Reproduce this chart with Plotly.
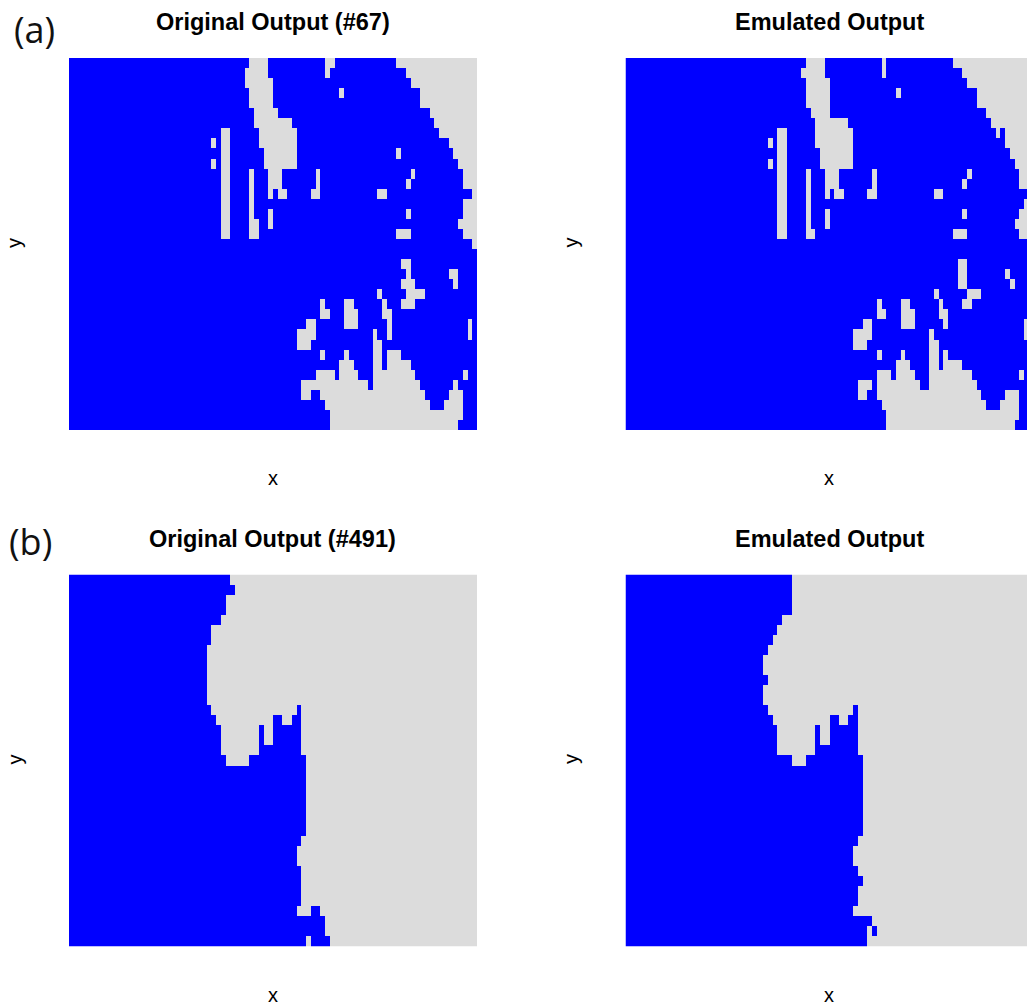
import plotly.graph_objects as go

N_COLS = 86
N_ROWS = 37
COLOR_BLUE = "#0000FF"
COLOR_GRAY = "#DCDCDC"

# Each row lists the runs of gray cells (first column, last column); all the rest is blue.
a_original = [
    [(38,41),(54,55),(69,85)], [(37,41),(54,54),(71,85)], [(37,42),(72,85)],
    [(38,42),(57,57),(74,85)], [(38,42),(74,85)], [(39,43),(76,85)], [(39,46),(77,85)],
    [(32,33),(40,47),(78,85)], [(30,30),(32,33),(40,47),(80,85)],
    [(32,33),(41,47),(69,69),(81,85)], [(30,30),(32,33),(41,47),(82,85)],
    [(32,33),(38,38),(42,44),(52,52),(72,72),(83,85)],
    [(32,33),(38,38),(42,44),(52,52),(71,71),(83,85)],
    [(32,33),(38,38),(42,42),(44,45),(51,52),(65,66),(85,85)],
    [(32,33),(38,38),(83,85)], [(32,33),(38,38),(42,42),(71,71),(83,85)],
    [(32,33),(38,39),(42,42),(82,85)], [(32,33),(38,39),(69,71),(83,85)],
    [(85,85)], [], [(70,71)], [(71,71),(80,81)], [(70,72),(81,81)], [(65,65),(71,74)],
    [(53,53),(58,59),(66,66),(70,72)], [(53,54),(58,60),(66,67)],
    [(50,51),(58,60),(67,67),(84,84)], [(48,51),(64,64),(67,67),(84,84)],
    [(48,50),(64,65)], [(53,53),(58,58),(64,65),(67,69)], [(57,59),(64,65),(67,71)],
    [(52,55),(57,60),(64,72),(83,83)], [(49,62),(64,73),(81,81)],
    [(49,50),(53,74),(80,82)], [(54,75),(79,82)], [(55,82)], [(55,81)],
]
a_emulated = [
    [(38,41),(54,54),(69,85)], [(37,41),(54,54),(71,85)], [(38,42),(72,85)],
    [(38,42),(57,57),(74,85)], [(38,42),(74,85)], [(39,42),(76,85)], [(40,46),(77,85)],
    [(32,33),(40,47),(78,78),(80,85)], [(30,30),(32,33),(40,47),(80,85)],
    [(32,33),(41,47),(81,85)], [(30,30),(32,33),(41,47),(82,85)],
    [(32,33),(38,38),(42,44),(52,52),(72,72),(83,85)],
    [(32,33),(38,38),(42,44),(52,52),(71,71),(83,85)],
    [(32,33),(38,38),(42,42),(44,45),(51,52),(65,66)],
    [(32,33),(38,38),(84,85)], [(32,33),(38,38),(42,42),(71,71),(83,85)],
    [(32,33),(38,38),(42,42),(82,85)], [(32,33),(38,39),(69,71),(83,85)],
    [], [], [(70,71)], [(70,71),(80,80)], [(70,71),(81,81)], [(65,65),(72,74)],
    [(53,53),(58,59),(66,66),(71,72)], [(53,54),(58,60),(66,67)],
    [(50,51),(58,60),(67,67),(84,85)], [(48,51),(64,64),(84,85)],
    [(48,50),(64,65)], [(53,53),(58,58),(64,65),(67,67)], [(57,59),(64,65),(67,70)],
    [(53,55),(57,60),(64,72),(83,83)], [(49,51),(53,61),(64,73)],
    [(49,50),(53,74),(80,82)], [(54,75),(79,82)], [(55,82)], [(55,81)],
]
b_original = [
    [(34,85)], [(35,85)], [(33,85)], [(33,85)], [(32,85)], [(30,85)], [(30,85)],
    [(29,85)], [(29,85)], [(29,85)], [(29,85)], [(29,85)], [(29,85)],
    [(30,47),(49,85)], [(31,42),(45,46),(49,85)], [(32,39),(41,42),(49,85)],
    [(32,39),(41,42),(49,85)], [(32,39),(49,85)], [(33,37),(50,85)],
    [(50,85)], [(50,85)], [(50,85)], [(50,85)], [(50,85)], [(50,85)], [(50,85)],
    [(49,85)], [(48,85)], [(48,85)], [(49,85)], [(49,85)], [(49,85)], [(49,85)],
    [(48,50),(53,85)], [(54,85)], [(54,85)], [(50,50),(55,85)],
]
b_emulated = [
    [(35,85)], [(35,85)], [(35,85)], [(35,85)], [(33,85)], [(32,85)], [(31,85)],
    [(30,85)], [(29,85)], [(29,85)], [(30,85)], [(29,85)], [(29,85)],
    [(30,47),(49,85)], [(31,42),(45,46),(49,85)], [(32,39),(41,42),(49,85)],
    [(32,39),(41,42),(49,85)], [(32,39),(49,85)], [(35,37),(50,85)],
    [(50,85)], [(50,85)], [(50,85)], [(50,85)], [(50,85)], [(50,85)], [(50,85)],
    [(49,85)], [(48,85)], [(48,85)], [(49,85)], [(50,85)], [(49,85)], [(49,85)],
    [(48,85)], [(52,85)], [(51,51),(53,85)], [(51,85)],
]
titles = ["Original Output (#67)", "Emulated Output", "Original Output (#491)", "Emulated Output"]
panels = [a_original, a_emulated, b_original, b_emulated]
tags = ["(a)", "(b)"]

W, H = 1027, 1008


def px(x):
    return x / W


def py(y):
    return 1 - y / H


def to_grid(runs):
    grid = []
    for row in runs:
        line = [0] * N_COLS
        for first, last in row:
            for c in range(first, last + 1):
                line[c] = 1
        grid.append(line)
    return grid


boxes = [(69, 477, 58, 430), (625.5, 1027, 58, 430), (69, 477, 574.5, 946.5), (625.5, 1027, 574.5, 946.5)]
col_centers = [c + 0.5 for c in range(N_COLS)]
row_centers = [r + 0.5 for r in range(N_ROWS)]

fig = go.Figure()
annotations = []
for i, (runs, box, title) in enumerate(zip(panels, boxes, titles)):
    x0, x1, y0, y1 = box
    suffix = "" if i == 0 else str(i + 1)
    fig.add_trace(go.Heatmap(
        z=to_grid(runs), x=col_centers, y=row_centers,
        xaxis="x" + suffix, yaxis="y" + suffix,
        zmin=0, zmax=1, showscale=False, xgap=0, ygap=0,
        colorscale=[[0, COLOR_BLUE], [1, COLOR_GRAY]],
        hoverinfo="skip",
    ))
    full_w = 408
    axis_common = dict(showgrid=False, zeroline=False, showticklabels=False, ticks="", showline=False)
    fig.layout["xaxis" + suffix] = dict(domain=[px(x0), px(x1)], range=[0, N_COLS * (x1 - x0) / full_w],
                                        anchor="y" + suffix, **axis_common)
    fig.layout["yaxis" + suffix] = dict(domain=[py(y1), py(y0)], range=[N_ROWS, 0],
                                        anchor="x" + suffix, **axis_common)
    cx = x0 + full_w / 2 - 0.5
    annotations.append(dict(text="<b>" + title + "</b>", x=px(cx), y=py(y0 - 36), yanchor="middle",
                            xref="paper", yref="paper", xanchor="center", showarrow=False,
                            font=dict(family="Liberation Sans", size=23.5, color="#000000")))
    annotations.append(dict(text="x", x=px(cx), y=py(y1 + 48), yanchor="middle",
                            xref="paper", yref="paper", xanchor="center", showarrow=False,
                            font=dict(family="Liberation Sans", size=20, color="#000000")))
    annotations.append(dict(text="y", x=px(x0 - 55), y=py((y0 + y1) / 2 - 1), yanchor="middle",
                            xref="paper", yref="paper", xanchor="center", showarrow=False, textangle=-90,
                            font=dict(family="Liberation Sans", size=20, color="#000000")))

for tag, xc, yc in zip(tags, [34, 30], [29, 541]):
    annotations.append(dict(text=tag, x=px(xc), y=py(yc), xref="paper", yref="paper",
                            xanchor="center", yanchor="middle", showarrow=False,
                            font=dict(family="Open Sans", size=36, color="#111111")))

fig.update_layout(width=W, height=H, margin=dict(l=0, r=0, t=0, b=0),
                  paper_bgcolor="#FFFFFF", plot_bgcolor="#FFFFFF", annotations=annotations)
fig.write_html("out.html", config=dict(displayModeBar=False),
               post_script="document.body.style.margin='0';document.documentElement.style.overflow='hidden';")
